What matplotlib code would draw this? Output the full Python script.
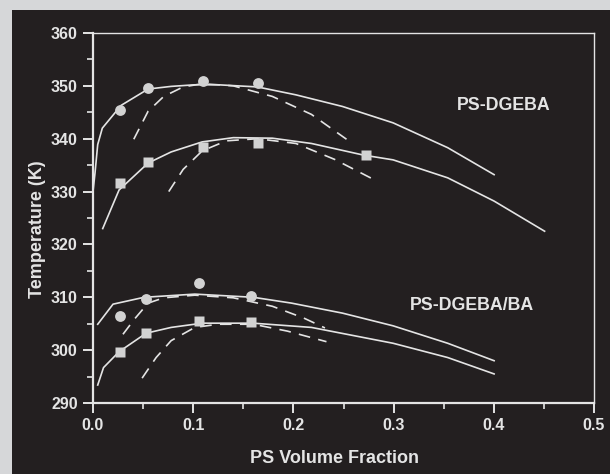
import matplotlib
matplotlib.use('Agg')
import matplotlib.pyplot as plt
from matplotlib.patches import Rectangle
from matplotlib.ticker import MultipleLocator

# markers (measured points)
circ_dgeba_x = [0.027, 0.055, 0.110, 0.165]
circ_dgeba_t = [345.5, 349.5, 351.0, 350.5]
sq_dgeba_x = [0.027, 0.055, 0.110, 0.165, 0.272]
sq_dgeba_t = [331.7, 335.5, 338.5, 339.2, 337.0]
circ_ba_x = [0.027, 0.053, 0.106, 0.158]
circ_ba_t = [306.5, 309.7, 312.7, 310.3]
sq_ba_x = [0.027, 0.053, 0.106, 0.158]
sq_ba_t = [299.7, 303.3, 305.5, 305.3]

# binodal curves (solid)
bin1_x = [0.0, 0.002, 0.0047, 0.0093, 0.028, 0.055, 0.078, 0.1016, 0.125, 0.164, 0.2025, 0.249, 0.2995, 0.354, 0.4003]
bin1_t = [330.0, 333.5, 338.9, 342.0, 346.3, 349.4, 349.9, 350.2, 350.2, 349.8, 348.3, 346.1, 343.0, 338.3, 333.2]
bin2_x = [0.0097, 0.026, 0.055, 0.078, 0.109, 0.14, 0.179, 0.218, 0.270, 0.2995, 0.354, 0.4003, 0.4507]
bin2_t = [323.0, 330.3, 335.4, 337.5, 339.4, 340.2, 340.1, 339.1, 336.9, 336.0, 332.6, 328.2, 322.5]
bin3_x = [0.0047, 0.020, 0.051, 0.1016, 0.16, 0.198, 0.249, 0.2995, 0.354, 0.4003]
bin3_t = [304.9, 308.7, 310.0, 310.6, 310.0, 308.9, 307.0, 304.6, 301.3, 298.0]
bin4_x = [0.0047, 0.0105, 0.026, 0.053, 0.078, 0.109, 0.16, 0.218, 0.2995, 0.354, 0.4003]
bin4_t = [293.4, 296.7, 299.7, 303.2, 304.3, 305.1, 305.1, 304.3, 301.3, 298.6, 295.5]

# spinodal curves (dashed)
spin1_x = [0.0407, 0.055, 0.0706, 0.09, 0.109, 0.14, 0.179, 0.218, 0.253]
spin1_t = [339.9, 345.2, 348.0, 349.8, 350.4, 350.0, 348.0, 344.6, 339.9]
spin2_x = [0.0756, 0.09, 0.109, 0.133, 0.164, 0.2025, 0.241, 0.279]
spin2_t = [330.0, 334.2, 337.7, 339.6, 340.0, 339.1, 336.1, 332.4]
spin3_x = [0.0299, 0.0415, 0.055, 0.0706, 0.1016, 0.14, 0.179, 0.21, 0.2315]
spin3_t = [303.0, 305.9, 308.9, 309.9, 310.4, 309.9, 308.3, 306.1, 304.2]
spin4_x = [0.049, 0.063, 0.078, 0.1016, 0.125, 0.16, 0.194, 0.233]
spin4_t = [294.7, 298.6, 301.8, 304.3, 304.9, 304.9, 303.6, 301.6]

bg = '#d6d7d9'
panel = '#231f20'
fg = '#e4e4e4'
mk = '#d2d2d2'

plt.rcParams['font.family'] = ['Liberation Sans', 'DejaVu Sans']

fig = plt.figure(figsize=(6.10, 4.74), dpi=100, facecolor=bg)
fig.patches.append(Rectangle((12 / 610, 0), 1, 1 - 10 / 474, transform=fig.transFigure,
                             facecolor=panel, edgecolor='none', zorder=-5))
ax = fig.add_axes([93 / 610, 1 - 403 / 474, (594 - 93) / 610, (403 - 33) / 474])
ax.set_zorder(2)
ax.set_facecolor(panel)

for xs, ts in [(bin1_x, bin1_t), (bin2_x, bin2_t), (bin3_x, bin3_t), (bin4_x, bin4_t)]:
    ax.plot(xs, ts, '-', color=fg, lw=1.2)
for xs, ts in [(spin1_x, spin1_t), (spin2_x, spin2_t), (spin3_x, spin3_t), (spin4_x, spin4_t)]:
    ax.plot(xs, ts, '--', color=fg, lw=1.2, dashes=(7, 5))

ax.plot(circ_dgeba_x, circ_dgeba_t, 'o', color=mk, ms=7.8, mec='none')
ax.plot(sq_dgeba_x, sq_dgeba_t, 's', color=mk, ms=7.3, mec='none')
ax.plot(circ_ba_x, circ_ba_t, 'o', color=mk, ms=7.8, mec='none')
ax.plot(sq_ba_x, sq_ba_t, 's', color=mk, ms=7.3, mec='none')

ax.text(0.41, 346.2, 'PS-DGEBA', color=fg, fontsize=12.8, fontweight='bold', ha='center', va='center')
ax.text(0.378, 308.5, 'PS-DGEBA/BA', color=fg, fontsize=12.8, fontweight='bold', ha='center', va='center')

ax.set_xlim(0, 0.5)
ax.set_ylim(290, 360)
ax.xaxis.set_major_locator(MultipleLocator(0.1))
ax.xaxis.set_minor_locator(MultipleLocator(0.05))
ax.yaxis.set_major_locator(MultipleLocator(10))
ax.yaxis.set_minor_locator(MultipleLocator(5))
ax.set_xticks([0, 0.1, 0.2, 0.3, 0.4, 0.5])
ax.set_xticklabels(['0.0', '0.1', '0.2', '0.3', '0.4', '0.5'])

for side in ['left', 'bottom']:
    ax.spines[side].set_color(fg)
    ax.spines[side].set_linewidth(1.6)
for side in ['top', 'right']:
    ax.spines[side].set_color(fg)
    ax.spines[side].set_linewidth(1.0)
ax.tick_params(which='major', direction='out', length=7, width=1.4, color=fg,
               labelcolor=fg, labelsize=11.5, pad=4)
ax.tick_params(which='minor', direction='out', length=4, width=1.2, color=fg)
for lbl in ax.get_xticklabels() + ax.get_yticklabels():
    lbl.set_fontweight('bold')

ax.set_xlabel('PS Volume Fraction', color=fg, fontsize=13, fontweight='bold')
ax.set_ylabel('Temperature (K)', color=fg, fontsize=13, fontweight='bold')
ax.xaxis.set_label_coords(0.483, -0.126)
ax.yaxis.set_label_coords(-0.094, 0.47)

fig.savefig('out.png', dpi=100, facecolor=bg)
